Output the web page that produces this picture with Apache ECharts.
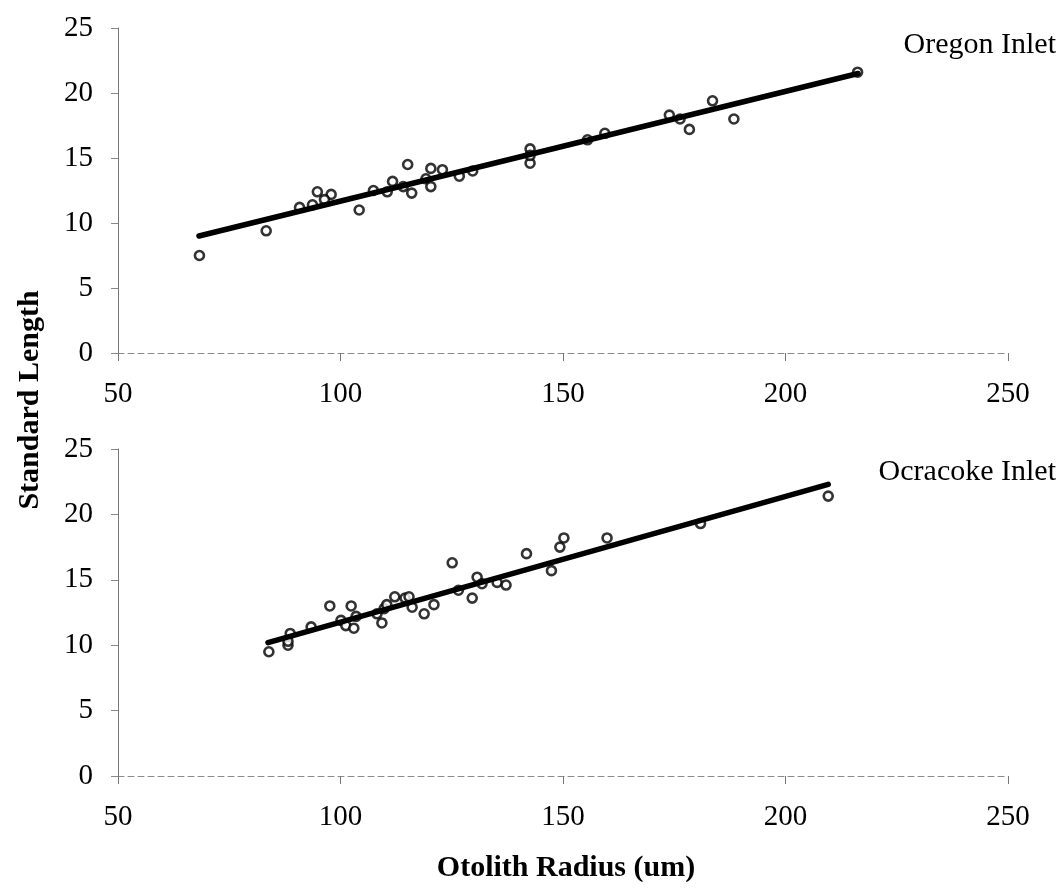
<!DOCTYPE html>
<html>
<head>
<meta charset="utf-8">
<script src="https://cdn.jsdelivr.net/npm/echarts@6/dist/echarts.min.js"></script>
<style>html,body{margin:0;padding:0;background:#fff;}#c{width:1062px;height:891px;}</style>
</head>
<body>
<div id="c"></div>
<script>
// Oregon Inlet (top panel)
const oregonX = [68.3, 83.3, 90.8, 93.7, 94.8, 97.9, 96.4, 104.2, 107.4, 110.5, 111.7, 114.1, 115.1, 116.0, 119.2, 120.3, 120.3, 122.9, 126.7, 129.7, 142.6, 142.6, 142.6, 155.5, 159.4, 173.9, 176.3, 178.4, 183.6, 188.4, 216.2];
const oregonY = [7.5, 9.4, 11.2, 11.4, 12.4, 12.2, 11.8, 11.0, 12.5, 12.4, 13.2, 12.8, 14.5, 12.3, 13.4, 14.2, 12.8, 14.1, 13.6, 14.0, 14.6, 15.7, 15.2, 16.4, 16.9, 18.3, 18.0, 17.2, 19.4, 18.0, 21.6];
const oregonTrendX = [68.2, 216.3];
const oregonTrendY = [9.0, 21.5];

// Ocracoke Inlet (bottom panel)
const ocracokeX = [83.9, 88.2, 88.2, 88.7, 93.4, 97.6, 100.1, 101.2, 102.4, 103.0, 103.5, 108.2, 109.3, 109.8, 110.4, 112.2, 114.5, 115.4, 116.1, 118.8, 121.0, 125.1, 126.5, 129.6, 130.7, 131.8, 135.2, 137.2, 141.8, 147.4, 149.3, 150.2, 159.9, 180.9, 209.6];
const ocracokeY = [9.5, 10.0, 10.3, 10.9, 11.4, 13.0, 11.9, 11.5, 13.0, 11.3, 12.2, 12.4, 11.7, 12.8, 13.1, 13.7, 13.6, 13.7, 12.9, 12.4, 13.1, 16.3, 14.2, 13.6, 15.2, 14.7, 14.8, 14.6, 17.0, 15.7, 17.5, 18.2, 18.2, 19.3, 21.4];
const ocracokeTrendX = [83.7, 209.6];
const ocracokeTrendY = [10.2, 22.3];

const xTicks = {min: 50, max: 250, interval: 50};
const yTicks = {min: 0, max: 25, interval: 5};
const panelLabels = ['Oregon Inlet', 'Ocracoke Inlet'];
const yTitle = 'Standard Length';
const xTitle = 'Otolith Radius (um)';

const FONT = '"Liberation Serif", "DejaVu Serif", serif';
const zip = (a, b) => a.map((v, i) => [v, b[i]]);

function xAxis(gi) {
  return {
    type: 'value', gridIndex: gi, min: xTicks.min, max: xTicks.max, interval: xTicks.interval,
    axisLine: {show: true, onZero: false, lineStyle: {color: '#8a8a8a', width: 1, type: [6, 4]}},
    axisTick: {show: true, inside: false, length: 8, lineStyle: {color: '#777', width: 1}},
    axisLabel: {margin: 27, color: '#000', fontFamily: FONT, fontSize: 29},
    splitLine: {show: false}
  };
}
function yAxis(gi) {
  return {
    type: 'value', gridIndex: gi, min: yTicks.min, max: yTicks.max, interval: yTicks.interval,
    axisLine: {show: true, lineStyle: {color: '#777', width: 1}},
    axisTick: {show: true, length: 7, lineStyle: {color: '#888', width: 1}},
    axisLabel: {margin: 25, color: '#000', fontFamily: FONT, fontSize: 29},
    splitLine: {show: false}
  };
}
function scatter(gi, x, y) {
  return {
    type: 'scatter', xAxisIndex: gi, yAxisIndex: gi, data: zip(x, y),
    symbol: 'circle', symbolSize: 9,
    itemStyle: {color: '#fff', borderColor: '#000', borderWidth: 2.6},
    z: 2, silent: true
  };
}
function trend(gi, x, y) {
  return {
    type: 'line', xAxisIndex: gi, yAxisIndex: gi, data: zip(x, y),
    showSymbol: false, symbol: 'none',
    lineStyle: {color: '#000', width: 5.5, cap: 'round'},
    z: 3, silent: true
  };
}

const chart = echarts.init(document.getElementById('c'), null, {renderer: 'canvas'});
chart.setOption({
  animation: false,
  backgroundColor: '#fff',
  grid: [
    {left: 118, top: 28, width: 890, height: 325},
    {left: 118, top: 449, width: 890, height: 327}
  ],
  xAxis: [xAxis(0), xAxis(1)],
  yAxis: [yAxis(0), yAxis(1)],
  series: [
    scatter(0, oregonX, oregonY),
    trend(0, oregonTrendX, oregonTrendY),
    scatter(1, ocracokeX, ocracokeY),
    trend(1, ocracokeTrendX, ocracokeTrendY)
  ],
  graphic: [
    {type: 'text', x: 1056, y: 45, style: {text: panelLabels[0], align: 'right', verticalAlign: 'middle', font: '30px ' + FONT, fill: '#000'}},
    {type: 'text', x: 1056, y: 472, style: {text: panelLabels[1], align: 'right', verticalAlign: 'middle', font: '30px ' + FONT, fill: '#000'}},
    {type: 'text', x: 566, y: 868, style: {text: xTitle, align: 'center', verticalAlign: 'middle', font: 'bold 30px ' + FONT, fill: '#000'}},
    {type: 'text', x: 30, y: 400, rotation: Math.PI / 2, style: {text: yTitle, align: 'center', verticalAlign: 'middle', font: 'bold 30px ' + FONT, fill: '#000'}}
  ]
});
</script>
</body>
</html>
